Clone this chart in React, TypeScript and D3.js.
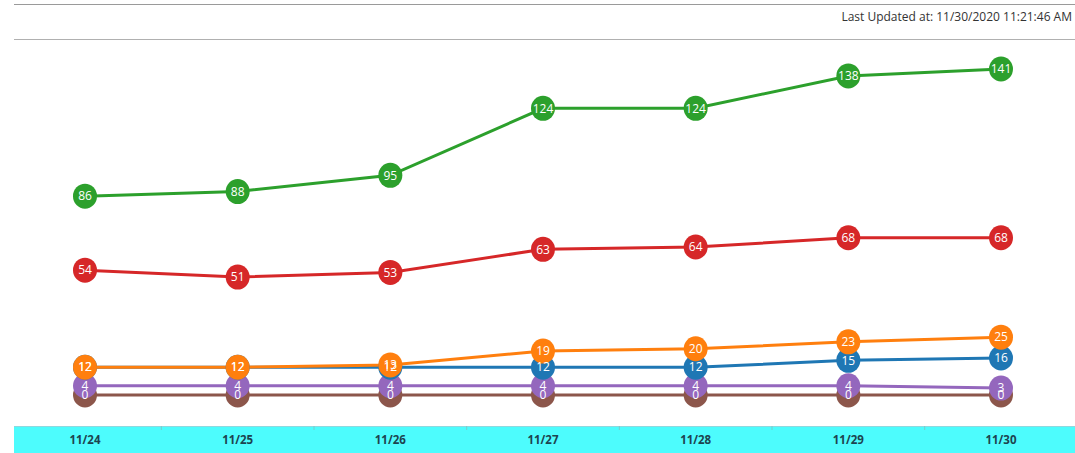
import { scaleLinear, scalePoint, line } from "d3";

const W = 1075;
const H = 453;

const dates = ["11/24", "11/25", "11/26", "11/27", "11/28", "11/29", "11/30"];

// series listed in draw order (bottom of the stack first)
const brownVals = [0, 0, 0, 0, 0, 0, 0];
const purpleVals = [4, 4, 4, 4, 4, 4, 3];
const blueVals = [12, 12, 12, 12, 12, 15, 16];
const orangeVals = [12, 12, 13, 19, 20, 23, 25];
const redVals = [54, 51, 53, 63, 64, 68, 68];
const greenVals = [86, 88, 95, 124, 124, 138, 141];

const series = [
  { key: "brown", color: "#8c564b", values: brownVals },
  { key: "purple", color: "#9467bd", values: purpleVals },
  { key: "blue", color: "#1f77b4", values: blueVals },
  { key: "orange", color: "#ff7f0e", values: orangeVals },
  { key: "red", color: "#d62728", values: redVals },
  { key: "green", color: "#2ca02c", values: greenVals },
];

const updated = "Last Updated at: 11/30/2020 11:21:46 AM";

export default function App() {
  const x = scalePoint<string>().domain(dates).range([85, 1001]);
  const y = scaleLinear().domain([0, 141]).range([395, 69]);
  const path = line<number>()
    .x((_, i) => x(dates[i]) ?? 0)
    .y((v) => y(v));

  const font = "'Open Sans', 'Noto Sans', sans-serif";
  const step = x.step();

  return (
    <svg width={W} height={H} style={{ position: "absolute", left: 0, top: 0 }} fontFamily={font}>
      <rect width={W} height={H} fill="#fff" />
      <line x1={14} x2={W} y1={4.5} y2={4.5} stroke="#9a9a9a" strokeWidth={1.2} />
      <line x1={14} x2={W} y1={39.5} y2={39.5} stroke="#b0b0b0" strokeWidth={1.2} />
      <text x={1072} y={21} textAnchor="end" fontSize={12} fill="#333">
        {updated}
      </text>

      {/* category band */}
      <rect x={14} y={426} width={W - 14} height={27} fill="#4dfcfd" />
      <line x1={14} x2={W} y1={426.5} y2={426.5} stroke="#8fd8de" strokeWidth={1} />
      {dates.slice(1).map((d) => (
        <line
          key={"t" + d}
          x1={(x(d) ?? 0) - step / 2}
          x2={(x(d) ?? 0) - step / 2}
          y1={426}
          y2={430}
          stroke="#7cc"
          strokeWidth={1}
        />
      ))}
      {dates.map((d) => (
        <text
          key={d}
          x={x(d)}
          y={444}
          textAnchor="middle"
          fontSize={11.5}
          fontWeight={700}
          fill="#1d4450"
        >
          {d}
        </text>
      ))}

      {series.map((s) => (
        <path key={s.key} d={path(s.values) ?? undefined} fill="none" stroke={s.color} strokeWidth={3} />
      ))}
      {series.map((s) => (
        <g key={"c" + s.key}>
          {s.values.map((v, i) => (
            <ellipse key={i} cx={x(dates[i])} cy={y(v)} rx={12} ry={12.5} fill={s.color} />
          ))}
        </g>
      ))}
      {series.map((s) => (
        <g key={"l" + s.key}>
          {s.values.map((v, i) => (
            <text
              key={i}
              x={x(dates[i])}
              y={y(v)}
              dy="0.35em"
              textAnchor="middle"
              fontSize={12}
              fill="#fff"
            >
              {v}
            </text>
          ))}
        </g>
      ))}
    </svg>
  );
}
